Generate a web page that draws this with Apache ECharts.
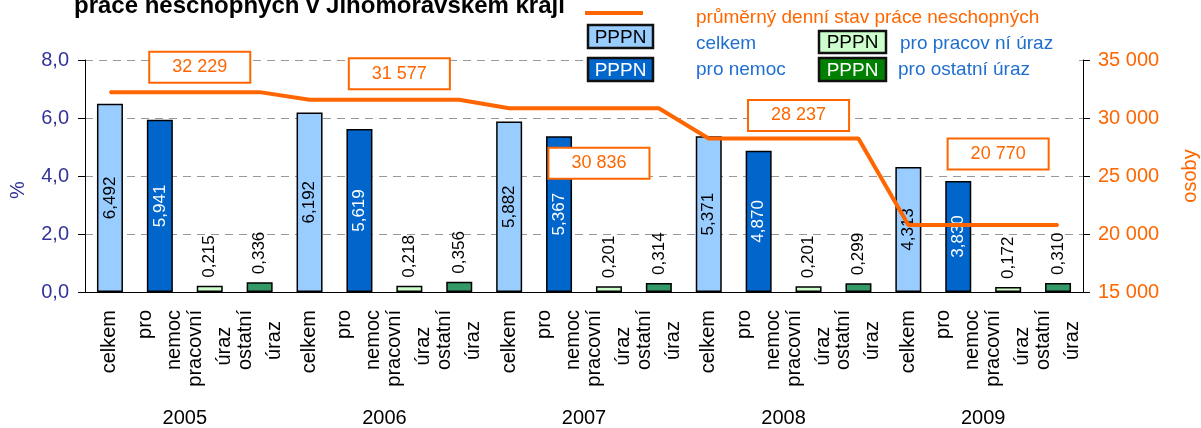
<!DOCTYPE html>
<html>
<head>
<meta charset="utf-8">
<script src="https://cdn.jsdelivr.net/npm/echarts@6/dist/echarts.min.js"></script>
<style>
  html, body { margin: 0; padding: 0; background: #fff; }
  #chart { width: 1201px; height: 428px; }
</style>
</head>
<body>
<div id="chart"></div>
<script>
// data
var years = ['2005', '2006', '2007', '2008', '2009'];
var kinds = ['celkem', 'pro\nnemoc', 'pracovní\núraz', 'ostatní\núraz'];
var pppn2005 = [6.492, 5.941, 0.215, 0.336];
var pppn2006 = [6.192, 5.619, 0.218, 0.356];
var pppn2007 = [5.882, 5.367, 0.201, 0.314];
var pppn2008 = [5.371, 4.870, 0.201, 0.299];
var pppn2009 = [4.313, 3.830, 0.172, 0.310];
var avgPersons = [32229, 31577, 30836, 28237, 20770];
var leftTicks = [0, 2, 4, 6, 8];
var rightTicks = [15000, 20000, 25000, 30000, 35000];

var FONT = 'Liberation Sans, Arial, sans-serif';
var ORANGE = '#FF6600';
var BLUE_TXT = '#1F6FD0';
var barColors = ['#99CCFF', '#0066CC', '#CCFFCC', '#339966'];

var categories = [];
years.forEach(function () { kinds.forEach(function (k) { categories.push(k); }); });
var barValues = [].concat(pppn2005, pppn2006, pppn2007, pppn2008, pppn2009);

function comma(v, d) { return v.toFixed(d).replace('.', ','); }
function spaced(v) { return String(v).replace(/\B(?=(\d{3})+(?!\d))/g, ' '); }

// second line of some labels sits a bit lower in the original
var padAfter = { 'pracovní\núraz': 3, 'ostatní\núraz': 2 };
function catLabel(v) {
  var n = padAfter[v] || 0;
  return n ? v + new Array(n + 1).join('\u00a0') : v;
}

var labelInside = { show: true, position: 'inside', rotate: 90, align: 'center', verticalAlign: 'middle', fontSize: 17, fontFamily: FONT };
var labelTop = { show: true, position: 'top', rotate: 90, align: 'left', verticalAlign: 'middle', distance: 8, fontSize: 17, fontFamily: FONT, color: '#000' };
var barLabels = [
  Object.assign({}, labelInside, { color: '#000' }),
  Object.assign({}, labelInside, { color: '#fff' }),
  labelTop,
  labelTop
];

var barData = barValues.map(function (v, i) {
  return { value: v, itemStyle: { color: barColors[i % 4] }, label: barLabels[i % 4] };
});

// where the boxed value of each year sits relative to its line segment
var boxOffsets = [[-10, -25], [-10, -26], [-10, 55], [-10, -23], [-10, -71]];
var lineData = [];
avgPersons.forEach(function (v, y) {
  for (var k = 0; k < 4; k++) {
    var item = { value: v };
    if (k === 2) {
      item.label = {
        show: true, position: 'inside',
        formatter: spaced(v), color: ORANGE, fontSize: 18, fontFamily: FONT,
        backgroundColor: '#fff', borderColor: ORANGE, borderWidth: 2,
        padding: [6, 22, 5, 22]
      };
    }
    lineData.push(item);
  }
});

function legendBox(x, y, w, h, fill, textColor) {
  return [
    { type: 'rect', shape: { x: x, y: y, width: w, height: h }, style: { fill: fill, stroke: '#111', lineWidth: 2.5 }, z: 12 },
    { type: 'text', x: x + w / 2, y: y + h / 2 + 1, style: { text: 'PPPN', fill: textColor, font: '19px ' + FONT, align: 'center', verticalAlign: 'middle' }, z: 13 }
  ];
}
function legendText(x, y, text, color) {
  return { type: 'text', x: x, y: y, style: { text: text, fill: color, font: '19px ' + FONT, verticalAlign: 'middle' }, z: 13 };
}

var chart = echarts.init(document.getElementById('chart'));
chart.setOption({
  animation: false,
  textStyle: { fontFamily: FONT },
  title: {
    text: 'práce neschopných v Jihomoravském kraji',
    left: 69, top: -11,
    textStyle: { fontSize: 24, fontWeight: 'bold', color: '#000', fontFamily: FONT }
  },
  grid: { left: 85, right: 118, top: 60, bottom: 136, containLabel: false, outerBoundsMode: 'none' },
  xAxis: [{
    type: 'category',
    data: categories,
    axisLine: { lineStyle: { color: '#000', width: 1 } },
    axisTick: { length: 95, interval: 0, lineStyle: { color: '#444' } },
    axisLabel: { interval: 0, rotate: 90, margin: 18, fontSize: 20, lineHeight: 29, color: '#000', fontFamily: FONT, formatter: catLabel },
    splitLine: { show: false }
  }, {
    type: 'category',
    data: years,
    position: 'bottom',
    axisLine: { show: false },
    axisTick: { length: 136, interval: 0, lineStyle: { color: '#444' } },
    axisLabel: { interval: 0, margin: 116, fontSize: 20, color: '#000', fontFamily: FONT },
    splitLine: { show: false }
  }],
  yAxis: [{
    type: 'value',
    min: leftTicks[0], max: leftTicks[leftTicks.length - 1], interval: 2,
    name: '%', nameLocation: 'middle', nameGap: 57, nameRotate: 90,
    nameTextStyle: { color: '#333399', fontSize: 20, fontFamily: FONT, padding: [0, 28, 0, 0] },
    axisLine: { show: true, lineStyle: { color: '#000' } },
    axisTick: { show: true, length: 7, lineStyle: { color: '#000' } },
    axisLabel: { formatter: function (v) { return comma(v, 1); }, color: '#333399', fontSize: 20, margin: 16, fontFamily: FONT },
    splitLine: { show: true, lineStyle: { color: '#999', type: [8, 6] } }
  }, {
    type: 'value',
    min: rightTicks[0], max: rightTicks[rightTicks.length - 1], interval: 5000,
    name: 'osoby', nameLocation: 'middle', nameGap: 97, nameRotate: 90,
    nameTextStyle: { color: ORANGE, fontSize: 20, fontFamily: FONT },
    axisLine: { show: true, lineStyle: { color: '#000' } },
    axisTick: { show: true, length: 7, lineStyle: { color: '#000' } },
    axisLabel: { formatter: spaced, color: ORANGE, fontSize: 20, margin: 15, fontFamily: FONT },
    splitLine: { show: false }
  }],
  series: [{
    type: 'bar',
    xAxisIndex: 0, yAxisIndex: 0,
    barWidth: 26,
    itemStyle: { borderColor: '#000', borderWidth: 1.5 },
    label: { formatter: function (p) { return comma(p.value, 3); } },
    data: barData,
    z: 2
  }, {
    type: 'line',
    xAxisIndex: 0, yAxisIndex: 1,
    symbol: 'circle', symbolSize: 2, showSymbol: true,
    itemStyle: { color: ORANGE },
    lineStyle: { color: ORANGE, width: 4 },
    labelLayout: function (p) {
      var o = boxOffsets[Math.floor(p.dataIndex / 4)];
      return { dx: o[0], dy: o[1], hideOverlap: false };
    },
    data: lineData,
    z: 3
  }],
  graphic: [].concat(
    [{ type: 'rect', shape: { x: 583, y: 0, width: 490, height: 86 }, style: { fill: '#fff' }, z: 10 },
     { type: 'line', shape: { x1: 585, y1: 13, x2: 643, y2: 13 }, style: { stroke: ORANGE, lineWidth: 4 }, z: 11 },
     legendText(696, 18, 'průměrný denní stav práce neschopných', ORANGE),
     legendText(696, 44, 'celkem', BLUE_TXT),
     legendText(696, 70, 'pro nemoc', BLUE_TXT),
     legendText(900, 44, 'pro pracov ní úraz', BLUE_TXT),
     legendText(898, 70, 'pro ostatní úraz', BLUE_TXT)],
    legendBox(588, 25, 65, 23, '#99CCFF', '#000'),
    legendBox(588, 58, 65, 23, '#0066CC', '#fff'),
    legendBox(819, 31, 67, 22, '#CCFFCC', '#000'),
    legendBox(819, 58, 67, 23, '#008000', '#fff')
  )
});
</script>
</body>
</html>
